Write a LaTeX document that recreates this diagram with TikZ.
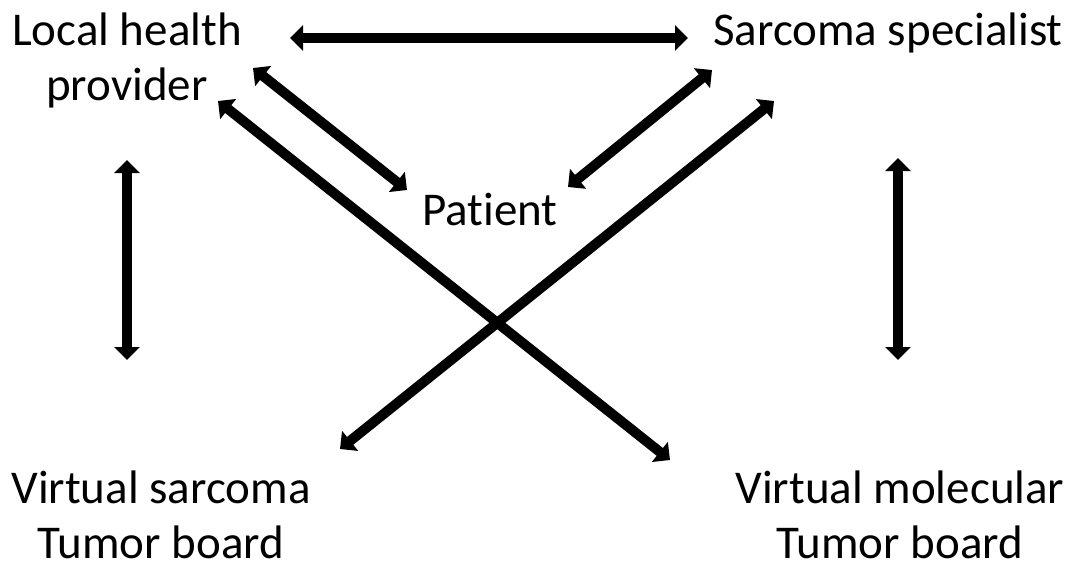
\documentclass[tikz,border=0pt]{standalone}
\usepackage{fontspec}
\setmainfont[Ligatures={NoCommon}]{Carlito}
\usetikzlibrary{arrows.meta}
\begin{document}
\begin{tikzpicture}[x=1pt,y=-1pt,
  lbl/.style={inner sep=0pt,align=center,font=\fontsize{47}{55}\selectfont},
  dbl/.style={line width=10pt,{Triangle[width=25pt,length=13pt]}-{Triangle[width=25pt,length=13pt]}}]
\useasboundingbox[fill=white] (0,0) rectangle (1070,570);
\node[lbl,anchor=base] (local) at (127,100) {Local health\\provider};
\node[lbl,anchor=base] (spec) at (888,45) {Sarcoma specialist};
\node[lbl,anchor=base] (pat) at (490,225) {Patient};
\node[lbl,anchor=base] (vs) at (161,558) {Virtual sarcoma\\Tumor board};
\node[lbl,anchor=base] (vm) at (900,558) {Virtual molecular\\Tumor board};
\coordinate (h1) at (290,38);
\coordinate (h2) at (688,38);
\coordinate (lp1) at (253,68);
\coordinate (lp2) at (407,190);
\coordinate (sp1) at (712,70);
\coordinate (sp2) at (568,187);
\coordinate (lm1) at (218,101);
\coordinate (lm2) at (670,460);
\coordinate (sv1) at (774,101);
\coordinate (sv2) at (340,449);
\coordinate (lv1) at (127,160);
\coordinate (lv2) at (127,360);
\coordinate (rv1) at (898,158);
\coordinate (rv2) at (898,360);
\draw[dbl] (h1) -- (h2);
\draw[dbl] (lp1) -- (lp2);
\draw[dbl] (sp1) -- (sp2);
\draw[dbl] (lm1) -- (lm2);
\draw[dbl] (sv1) -- (sv2);
\draw[dbl] (lv1) -- (lv2);
\draw[dbl] (rv1) -- (rv2);
\end{tikzpicture}
\end{document}
